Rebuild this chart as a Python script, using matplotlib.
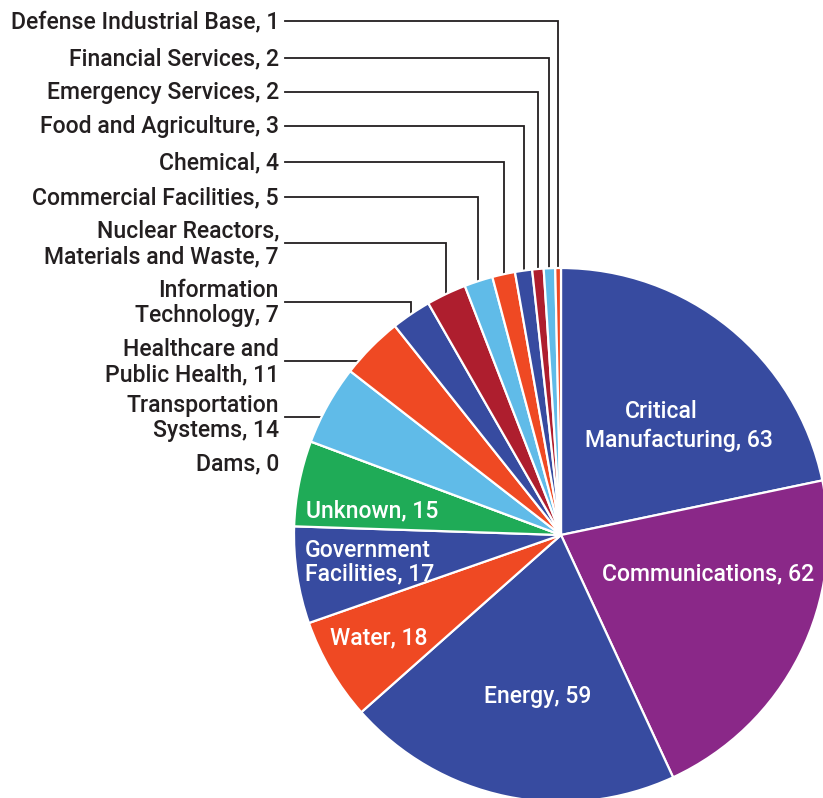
import numpy as np
import matplotlib.pyplot as plt

plt.rcParams['font.family'] = ['Roboto', 'DejaVu Sans']

# sectors in clockwise order starting from 12 o'clock
sectors = ["Critical\nManufacturing", "Communications", "Energy", "Water",
           "Government\nFacilities", "Unknown", "Dams", "Transportation\nSystems",
           "Healthcare and\nPublic Health", "Information\nTechnology",
           "Nuclear Reactors,\nMaterials and Waste", "Commercial Facilities",
           "Chemical", "Food and Agriculture", "Emergency Services",
           "Financial Services", "Defense Industrial Base"]
counts = [63, 62, 59, 18, 17, 15, 0, 14, 11, 7, 7, 5, 4, 3, 2, 2, 1]

BLUE, PURPLE, ORANGE = "#374BA0", "#8A2888", "#EF4923"
GREEN, LIGHTBLUE, DARKRED = "#1FAB57", "#60BBE8", "#AE1E2E"
colors = [BLUE, PURPLE, BLUE, ORANGE, BLUE, GREEN, BLUE, LIGHTBLUE, ORANGE,
          BLUE, DARKRED, LIGHTBLUE, ORANGE, BLUE, DARKRED, LIGHTBLUE, ORANGE]

W, H = 823, 798
cx, cy, r = 561, 535, 267   # pie centre / radius in image pixels
TXT = "#231F20"
FS = 16.6

# layout: inside labels (x, y, ha) and outside labels (y) in image pixels
inside = {0: (679, 426, 'center'), 1: (708, 574, 'center'), 2: (538, 697, 'center'),
          3: (379, 638, 'center'), 4: (305, 562, 'left'), 5: (306, 511, 'left')}
outside = {16: 21, 15: 58, 14: 92, 13: 126, 12: 162, 11: 197, 10: 243,
           9: 302, 8: 361, 7: 417, 6: 463}

fig = plt.figure(figsize=(W / 100, H / 100), dpi=100)
ax = fig.add_axes([0, 0, 1, 1])

def Y(y):
    return H - y

wedges, _ = ax.pie(counts, colors=colors, startangle=90, counterclock=False,
                   center=(cx, Y(cy)), radius=r, frame=True,
                   wedgeprops=dict(edgecolor='white', linewidth=1.6))
for w in wedges:
    w.set_zorder(3)

for i, (x, y, ha) in inside.items():
    label = f"{sectors[i]}, {counts[i]}"
    if i == 0:
        first, second = label.split("\n")
        ax.text(661, Y(411), first, color='white', fontsize=FS, ha='center',
                va='center', fontweight='medium', zorder=5)
        ax.text(679, Y(440), second, color='white', fontsize=FS, ha='center',
                va='center', fontweight='medium', zorder=5)
        continue
    ax.text(x, Y(y), label, color='white', fontsize=FS, ha=ha, va='center',
            fontweight='medium', linespacing=1.0, zorder=5)

x0 = 285
for i, y in outside.items():
    ax.text(279, Y(y + 1), f"{sectors[i]}, {counts[i]}", color=TXT, fontsize=FS,
            fontweight='medium', ha='right', va='center', multialignment='right',
            linespacing=1.13)
    if counts[i] == 0:
        continue
    w = wedges[i]
    mid = np.deg2rad((w.theta1 + w.theta2) / 2)
    vx = cx + r * np.cos(mid)
    ex = cx - np.sqrt(max(r ** 2 - (y - cy) ** 2, 0))
    if vx < ex:
        vy = cy - np.sqrt(r ** 2 - (vx - cx) ** 2)
        ax.plot([x0, vx, vx], [Y(y), Y(y), Y(vy)], color=TXT, lw=1.3,
                solid_joinstyle='miter', zorder=2)
    else:
        ax.plot([x0, ex], [Y(y), Y(y)], color=TXT, lw=1.3, zorder=2)

ax.set_xlim(0, W)
ax.set_ylim(0, H)
ax.set_aspect('equal')
ax.axis('off')

fig.savefig("out.png", dpi=100)
